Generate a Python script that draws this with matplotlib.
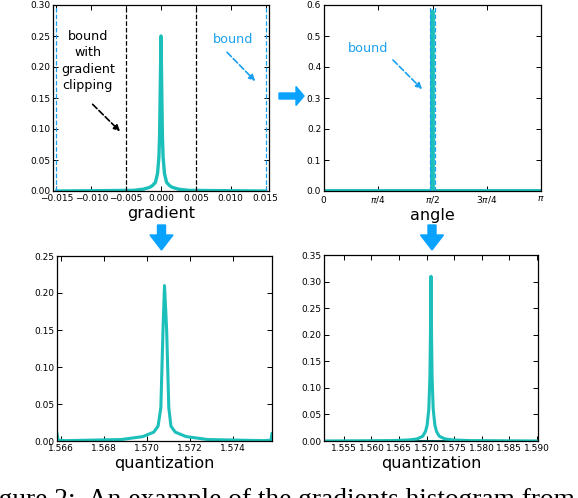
import numpy as np
import matplotlib.pyplot as plt
from matplotlib.patches import FancyArrow

# --- data ---
# top-left: gradient histogram
grad_x = [-0.015, -0.004, -0.0025, -0.0016, -0.0012, -0.0008, -0.0005, -0.0003, -0.0002, -0.0001, 0.0,
          0.0001, 0.0002, 0.0003, 0.0005, 0.0008, 0.0012, 0.0016, 0.0025, 0.004, 0.015]
grad_y = [0.0, 0.001, 0.003, 0.006, 0.009, 0.014, 0.028, 0.055, 0.09, 0.17, 0.25,
          0.17, 0.09, 0.055, 0.028, 0.014, 0.009, 0.006, 0.003, 0.001, 0.0]
clip_bounds = [-0.005, 0.005]
grad_bounds = [-0.015, 0.015]

# top-right: angle histogram
ang_x = [0.0, 1.555, 1.5655, 1.5685, 1.5700, 1.5708, 1.5716, 1.5731, 1.5761, 1.586, np.pi]
ang_y = [0.0, 0.0, 0.004, 0.02, 0.2, 0.58, 0.2, 0.02, 0.004, 0.0, 0.0]
ang_bounds = [1.5328, 1.6088]

# bottom-left: quantization (gradient branch)
q1_x = [1.5658, 1.56585, 1.5662, 1.5688, 1.5698, 1.5703, 1.5705, 1.57063, 1.57073, 1.5708, 1.5709,
        1.5710, 1.5711, 1.5713, 1.5718, 1.5728, 1.5754, 1.57575, 1.5758]
q1_y = [0.01, 0.001, 0.0005, 0.002, 0.006, 0.012, 0.02, 0.045, 0.15, 0.21, 0.15,
        0.045, 0.02, 0.012, 0.006, 0.002, 0.0005, 0.001, 0.01]

# bottom-right: quantization (angle branch)
q2_x = [1.5514, 1.5638, 1.5668, 1.5683, 1.5693, 1.5698, 1.5701, 1.5704, 1.5706, 1.5707, 1.5708,
        1.5709, 1.5710, 1.5712, 1.5715, 1.5718, 1.5723, 1.5733, 1.5748, 1.5778, 1.5902]
q2_y = [0.0, 0.0008, 0.002, 0.004, 0.009, 0.018, 0.03, 0.06, 0.12, 0.2, 0.31,
        0.2, 0.12, 0.06, 0.03, 0.018, 0.009, 0.004, 0.002, 0.0008, 0.0]

TEAL = '#1cbfb9'
DARK = '#0e5f5f'
BLUE = '#1aa0f0'
ARROW = '#0aa2ff'

fig = plt.figure(figsize=(5.78, 4.98), dpi=100)
W, H = 578.0, 498.0


def add_ax(l, t, r, b):
    ax = fig.add_axes([l / W, 1 - b / H, (r - l) / W, (b - t) / H])
    ax.tick_params(direction='in', top=True, right=True, length=3.5, width=0.7,
                   labelsize=6.5, pad=2)
    for s in ax.spines.values():
        s.set_linewidth(0.9)
    return ax


# top-left
ax1 = add_ax(53, 5, 269, 191)
ax1.plot(grad_x, grad_y, color=TEAL, lw=2.4, solid_joinstyle='round')
for b in clip_bounds:
    ax1.axvline(b, color='k', ls='--', lw=0.9)
for b in grad_bounds:
    ax1.axvline(b, color=BLUE, ls='--', lw=0.9)
ax1.set_xlim(-0.0155, 0.0155)
ax1.set_ylim(0, 0.30)
ax1.set_xticks(np.arange(-0.015, 0.0151, 0.005))
ax1.set_xticklabels(['\u22120.015', '\u22120.010', '\u22120.005', '0.000', '0.005', '0.010', '0.015'])
ax1.set_yticks(np.arange(0, 0.301, 0.05))
ax1.set_yticklabels(['0.00', '0.05', '0.10', '0.15', '0.20', '0.25', '0.30'])
ax1.set_xlabel('gradient', fontsize=11.5, labelpad=2)
ax1.text(-0.0105, 0.21, 'bound\nwith\ngradient\nclipping', ha='center', va='center',
         fontsize=9.2, linespacing=1.35)
ax1.annotate('', xy=(-0.0056, 0.093), xytext=(-0.0101, 0.143),
             arrowprops=dict(arrowstyle='-|>', ls='--', color='k', lw=1.2, mutation_scale=9))
ax1.text(0.0103, 0.245, 'bound', color=BLUE, ha='center', va='center', fontsize=9.2)
ax1.annotate('', xy=(0.0138, 0.174), xytext=(0.0092, 0.227),
             arrowprops=dict(arrowstyle='-|>', ls='--', color=BLUE, lw=1.2, mutation_scale=9))

# top-right
ax2 = add_ax(324, 5, 541, 191)
ax2.plot([0, np.pi], [0, 0], color=DARK, lw=2.2)
ax2.plot(ang_x, ang_y, color=TEAL, lw=2.8)
for b in ang_bounds:
    ax2.axvline(b, color=BLUE, ls='--', lw=0.9)
ax2.set_xlim(0, np.pi)
ax2.set_ylim(0, 0.6)
ax2.set_xticks([0, np.pi / 4, np.pi / 2, 3 * np.pi / 4, np.pi])
ax2.set_xticklabels(['$0$', r'$\pi/4$', r'$\pi/2$', r'$3\pi/4$', r'$\pi$'])
ax2.set_yticks(np.arange(0, 0.61, 0.1))
ax2.set_yticklabels(['0.0', '0.1', '0.2', '0.3', '0.4', '0.5', '0.6'])
ax2.set_xlabel('angle', fontsize=11.5, labelpad=2)
ax2.text(0.64, 0.46, 'bound', color=BLUE, ha='center', va='center', fontsize=9.2)
ax2.annotate('', xy=(1.448, 0.322), xytext=(0.97, 0.429),
             arrowprops=dict(arrowstyle='-|>', ls='--', color=BLUE, lw=1.2, mutation_scale=9))

# bottom-left
ax3 = add_ax(57, 256, 272, 441)
ax3.plot(q1_x, q1_y, color=TEAL, lw=2.2)
ax3.set_xlim(1.5658, 1.5758)
ax3.set_ylim(0, 0.25)
ax3.set_xticks([1.566, 1.568, 1.570, 1.572, 1.574])
ax3.set_xticklabels(['1.566', '1.568', '1.570', '1.572', '1.574'])
ax3.set_yticks(np.arange(0, 0.251, 0.05))
ax3.set_yticklabels(['0.00', '0.05', '0.10', '0.15', '0.20', '0.25'])
ax3.set_xlabel('quantization', fontsize=11.5, labelpad=2)

# bottom-right
ax4 = add_ax(324, 255, 538, 441)
ax4.plot([1.5514, 1.5902], [0, 0], color=DARK, lw=2.2)
ax4.plot(q2_x, q2_y, color=TEAL, lw=2.2)
ax4.set_xlim(1.5514, 1.5902)
ax4.set_ylim(0, 0.35)
ax4.set_xticks([1.555, 1.560, 1.565, 1.570, 1.575, 1.580, 1.585, 1.590])
ax4.set_xticklabels(['1.555', '1.560', '1.565', '1.570', '1.575', '1.580', '1.585', '1.590'])
ax4.set_yticks(np.arange(0, 0.351, 0.05))
ax4.set_yticklabels(['0.00', '0.05', '0.10', '0.15', '0.20', '0.25', '0.30', '0.35'])
ax4.set_xlabel('quantization', fontsize=11.5, labelpad=2)

# big blue flow arrows (inches)
tr = fig.dpi_scale_trans
fig.patches.append(FancyArrow(2.79, 4.02, 0.25, 0, width=0.06, head_width=0.19, head_length=0.08,
                              length_includes_head=True, color=ARROW, transform=tr, figure=fig))
for xc in [1.615, 4.32]:
    fig.patches.append(FancyArrow(xc, 2.73, 0, -0.25, width=0.08, head_width=0.23, head_length=0.15,
                                  length_includes_head=True, color=ARROW, transform=tr, figure=fig))

# caption (cut off by the page edge)
fig.text(-24 / W, -9 / H, 'Figure 2:  An example of the gradients histogram from',
         family='Liberation Serif', fontsize=19.7, ha='left', va='baseline')

fig.savefig('out.png', dpi=100)
